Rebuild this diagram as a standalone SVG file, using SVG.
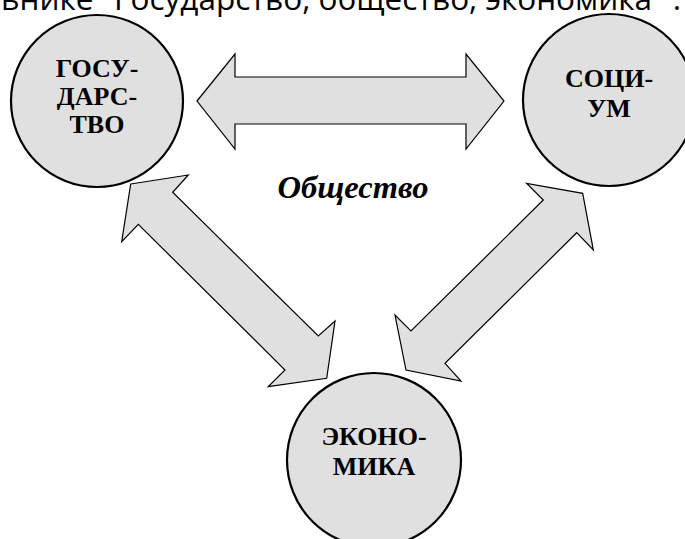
<svg xmlns="http://www.w3.org/2000/svg" width="685" height="539" viewBox="0 0 685 539">
<style>
.node circle{fill:#e0e0e0;stroke:#000;stroke-width:2.2}
.node text{font-family:"Liberation Serif","Times New Roman",serif;font-weight:bold;font-size:26px;text-anchor:middle;fill:#000}
.arrow{fill:#e0e0e0;stroke:#000;stroke-width:1.2;stroke-linejoin:miter}
.title{font-family:"Liberation Serif","Times New Roman",serif;font-weight:bold;font-style:italic;font-size:32.5px;text-anchor:middle;fill:#000}
.top{font-family:"Open Sans","Noto Sans",sans-serif;font-size:31.5px;text-anchor:end;fill:#000}
</style>
<rect width="685" height="539" fill="#fff"/>
<text class="top" x="681" y="9.5">ьнике "Государство, общество, экономика" .</text>
<g id="connectors">
<polygon class="arrow" points="197,101 235,54 235,77 466,77 466,54 504,101 466,149 466,124 235,124 235,149"/>
<polygon class="arrow" points="130.7,184 188.3,175 172.7,192.3 318.3,336 335,321 326.7,378.3 268.3,386.7 285,370 138.3,224.3 121.7,241.7"/>
<polygon class="arrow" points="582.7,193.3 593.3,250 576.7,232.7 445,363.3 461,381 406,370 395,315 411,331 543.3,200 526.7,183.3"/>
</g>
<g id="node-gosudarstvo" class="node">
<circle cx="97" cy="101" r="86"/>
<text x="97" y="77">ГОСУ-</text>
<text x="97" y="105">ДАРС-</text>
<text x="97" y="133">ТВО</text>
</g>
<g id="node-socium" class="node">
<circle cx="609" cy="100" r="86"/>
<text x="609" y="87">СОЦИ-</text>
<text x="609" y="117">УМ</text>
</g>
<g id="node-ekonomika" class="node">
<circle cx="374" cy="460" r="87"/>
<text x="374" y="445">ЭКОНО-</text>
<text x="374" y="475">МИКА</text>
</g>
<text id="label-obshchestvo" class="title" x="353" y="198">Общество</text>
</svg>
